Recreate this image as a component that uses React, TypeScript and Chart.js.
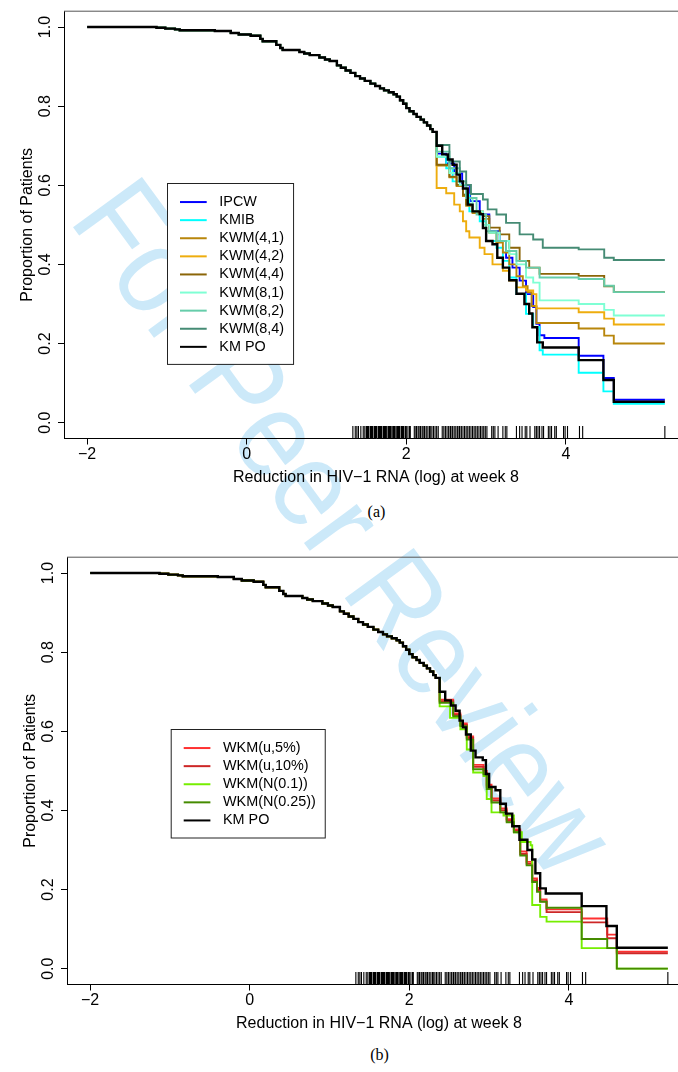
import React, { useEffect, useRef } from 'react';
import { Chart, registerables } from 'chart.js';

Chart.register(...registerables);

const SANS = "'Liberation Sans', Arial, Helvetica, sans-serif";
const SERIF = "'Liberation Serif', 'Times New Roman', serif";

// ---------- axes ----------
const xTickValues = [-2, 0, 2, 4];
const yTickValues = [0, 0.2, 0.4, 0.6, 0.8, 1.0];
const xTitle = 'Reduction in HIV\u22121 RNA (log) at week 8';
const yTitle = 'Proportion of Patients';
const panelLabels = ['(a)', '(b)'];
const watermarkText = 'For Peer Review';

// ---------- shared early part of every curve ----------
const baseX = [-2, -1.13, -1.02, -0.9, -0.84, -0.4, -0.2, -0.1, 0.05, 0.17, 0.2, 0.37, 0.42, 0.45, 0.66, 0.72, 0.79, 0.91, 0.98, 1.04, 1.13, 1.18, 1.24, 1.3, 1.36, 1.42, 1.48, 1.55, 1.61, 1.67, 1.72, 1.78, 1.84, 1.88, 1.92, 1.96, 2.0, 2.04, 2.09, 2.13, 2.18, 2.22, 2.26, 2.3, 2.33];
const baseY = [1.0, 0.998, 0.996, 0.994, 0.992, 0.99, 0.985, 0.981, 0.978, 0.97, 0.964, 0.955, 0.947, 0.942, 0.937, 0.933, 0.929, 0.923, 0.918, 0.914, 0.903, 0.897, 0.89, 0.884, 0.876, 0.87, 0.864, 0.857, 0.851, 0.845, 0.84, 0.835, 0.83, 0.824, 0.815, 0.806, 0.795, 0.787, 0.78, 0.773, 0.766, 0.759, 0.751, 0.742, 0.735];

// ---------- tails (panel a) ----------
const kmpoX = [2.38, 2.45, 2.52, 2.58, 2.63, 2.67, 2.71, 2.77, 2.83, 2.92, 2.96, 3.0, 3.08, 3.14, 3.21, 3.29, 3.38, 3.48, 3.54, 3.58, 3.64, 3.71, 4.16, 4.47, 4.6, 5.24];
const kmpoY = [0.70, 0.678, 0.665, 0.652, 0.627, 0.61, 0.592, 0.551, 0.534, 0.527, 0.492, 0.459, 0.451, 0.417, 0.392, 0.36, 0.326, 0.30, 0.276, 0.241, 0.203, 0.19, 0.158, 0.108, 0.053, 0.053];

const ipcwX = [2.38, 2.5, 2.6, 2.7, 2.8, 2.92, 3.04, 3.17, 3.25, 3.33, 3.42, 3.5, 3.59, 3.63, 3.67, 3.73, 4.16, 4.47, 4.6, 5.24];
const ipcwY = [0.68, 0.655, 0.63, 0.60, 0.56, 0.526, 0.484, 0.459, 0.417, 0.392, 0.359, 0.325, 0.292, 0.25, 0.221, 0.214, 0.169, 0.113, 0.058, 0.058];

const kmibX = [2.38, 2.5, 2.58, 2.71, 2.79, 2.92, 3.0, 3.13, 3.21, 3.29, 3.38, 3.5, 3.59, 3.67, 3.71, 4.16, 4.47, 4.6, 5.24];
const kmibY = [0.672, 0.643, 0.61, 0.576, 0.534, 0.509, 0.459, 0.442, 0.409, 0.367, 0.325, 0.275, 0.242, 0.183, 0.172, 0.126, 0.079, 0.048, 0.048];

const kwm41X = [2.38, 2.54, 2.63, 2.71, 2.75, 2.83, 2.96, 3.04, 3.13, 3.21, 3.29, 3.38, 3.46, 3.52, 3.57, 3.63, 4.16, 4.48, 4.6, 5.24];
const kwm41Y = [0.65, 0.62, 0.598, 0.573, 0.548, 0.53, 0.515, 0.48, 0.455, 0.43, 0.40, 0.37, 0.345, 0.33, 0.295, 0.252, 0.238, 0.22, 0.20, 0.20];

const kwm42X = [2.38, 2.5, 2.6, 2.67, 2.71, 2.75, 2.79, 2.92, 2.98, 3.08, 3.21, 3.29, 3.38, 3.5, 3.59, 3.63, 4.16, 4.48, 4.6, 5.24];
const kwm42Y = [0.593, 0.58, 0.551, 0.534, 0.509, 0.484, 0.468, 0.442, 0.426, 0.40, 0.384, 0.359, 0.342, 0.334, 0.325, 0.289, 0.279, 0.263, 0.248, 0.248];

const kwm44X = [2.38, 2.54, 2.63, 2.71, 2.75, 2.83, 2.96, 3.04, 3.17, 3.29, 3.42, 3.54, 3.67, 4.16, 4.48, 4.6, 5.24];
const kwm44Y = [0.652, 0.622, 0.601, 0.576, 0.551, 0.534, 0.522, 0.493, 0.476, 0.442, 0.409, 0.392, 0.376, 0.371, 0.345, 0.33, 0.33];

const kwm81X = [2.38, 2.54, 2.67, 2.75, 2.83, 2.96, 3.04, 3.17, 3.29, 3.38, 3.5, 3.59, 3.67, 4.16, 4.48, 4.6, 5.24];
const kwm81Y = [0.672, 0.631, 0.601, 0.568, 0.534, 0.50, 0.48, 0.459, 0.426, 0.40, 0.367, 0.354, 0.309, 0.30, 0.285, 0.271, 0.271];

const kwm82X = [2.38, 2.54, 2.67, 2.75, 2.88, 3.0, 3.13, 3.25, 3.38, 3.5, 3.67, 4.16, 4.48, 4.6, 5.24];
const kwm82Y = [0.685, 0.643, 0.61, 0.568, 0.526, 0.484, 0.459, 0.434, 0.409, 0.392, 0.367, 0.363, 0.346, 0.33, 0.33];

const kwm84X = [2.38, 2.54, 2.67, 2.75, 2.81, 2.96, 3.02, 3.13, 3.25, 3.42, 3.59, 3.71, 4.16, 4.48, 4.6, 5.24];
const kwm84Y = [0.702, 0.66, 0.635, 0.601, 0.578, 0.564, 0.539, 0.526, 0.505, 0.476, 0.463, 0.442, 0.438, 0.417, 0.411, 0.411];

// ---------- tails (panel b) ----------
const wkmU5X = [2.38, 2.55, 2.64, 2.72, 2.80, 2.93, 2.97, 3.03, 3.14, 3.22, 3.31, 3.39, 3.47, 3.54, 3.6, 3.64, 3.72, 4.16, 4.48, 4.6, 5.24];
const wkmU5Y = [0.68, 0.645, 0.62, 0.587, 0.515, 0.5, 0.465, 0.43, 0.405, 0.378, 0.352, 0.296, 0.27, 0.228, 0.204, 0.175, 0.15, 0.127, 0.086, 0.043, 0.043];

const wkmU10X = [2.38, 2.55, 2.64, 2.72, 2.80, 2.93, 2.97, 3.03, 3.14, 3.22, 3.31, 3.39, 3.47, 3.54, 3.6, 3.64, 3.72, 4.16, 4.48, 4.6, 5.24];
const wkmU10Y = [0.676, 0.641, 0.616, 0.583, 0.51, 0.495, 0.46, 0.425, 0.40, 0.374, 0.348, 0.29, 0.265, 0.223, 0.199, 0.17, 0.143, 0.117, 0.077, 0.039, 0.039];

const wkmN10X = [2.38, 2.51, 2.64, 2.72, 2.80, 2.93, 2.97, 3.03, 3.18, 3.31, 3.41, 3.52, 3.54, 3.64, 3.72, 4.16, 4.6, 5.24];
const wkmN10Y = [0.663, 0.634, 0.605, 0.554, 0.496, 0.487, 0.429, 0.395, 0.387, 0.345, 0.32, 0.312, 0.161, 0.131, 0.119, 0.052, 0.0, 0.0];

const wkmN25X = [2.38, 2.55, 2.64, 2.72, 2.80, 2.93, 2.97, 3.03, 3.14, 3.22, 3.31, 3.39, 3.47, 3.54, 3.6, 3.64, 3.72, 4.16, 4.48, 4.6, 5.24];
const wkmN25Y = [0.672, 0.638, 0.613, 0.579, 0.504, 0.491, 0.454, 0.42, 0.395, 0.37, 0.345, 0.286, 0.261, 0.219, 0.194, 0.169, 0.154, 0.075, 0.052, 0.0, 0.0];

// ---------- rug (observed values) ----------
const rugValues = [1.33, 1.36, 1.38, 1.40, 1.43, 1.46, 1.48, 1.50, 1.51, 1.52, 1.53, 1.55, 1.56, 1.57, 1.58, 1.60, 1.61, 1.62, 1.63, 1.65, 1.66, 1.67, 1.68, 1.69, 1.71, 1.72, 1.73, 1.74, 1.75, 1.77, 1.78, 1.79, 1.80, 1.81, 1.83, 1.84, 1.85, 1.86, 1.88, 1.89, 1.90, 1.91, 1.92, 1.94, 1.95, 1.96, 1.97, 1.99, 2.00, 2.02, 2.04, 2.05, 2.10, 2.12, 2.13, 2.15, 2.17, 2.18, 2.20, 2.22, 2.23, 2.25, 2.27, 2.29, 2.30, 2.32, 2.34, 2.36, 2.38, 2.40, 2.45, 2.47, 2.49, 2.51, 2.53, 2.55, 2.56, 2.58, 2.60, 2.62, 2.64, 2.66, 2.67, 2.69, 2.71, 2.73, 2.75, 2.77, 2.79, 2.81, 2.83, 2.85, 2.87, 2.89, 2.91, 2.93, 2.95, 2.97, 2.99, 3.01, 3.07, 3.09, 3.11, 3.15, 3.21, 3.24, 3.26, 3.38, 3.42, 3.45, 3.49, 3.51, 3.55, 3.61, 3.63, 3.65, 3.67, 3.70, 3.72, 3.78, 3.80, 3.82, 3.86, 3.88, 3.97, 3.99, 4.02, 4.17, 4.21, 5.24];

// ---------- series definitions ----------
const seriesA = [
  { label: 'IPCW', color: '#0000FF', tx: ipcwX, ty: ipcwY },
  { label: 'KMIB', color: '#00FFFF', tx: kmibX, ty: kmibY },
  { label: 'KWM(4,1)', color: '#B8860B', tx: kwm41X, ty: kwm41Y },
  { label: 'KWM(4,2)', color: '#EEAD0E', tx: kwm42X, ty: kwm42Y },
  { label: 'KWM(4,4)', color: '#8B6508', tx: kwm44X, ty: kwm44Y },
  { label: 'KWM(8,1)', color: '#7FFFD4', tx: kwm81X, ty: kwm81Y },
  { label: 'KWM(8,2)', color: '#66CDAA', tx: kwm82X, ty: kwm82Y },
  { label: 'KWM(8,4)', color: '#458B74', tx: kwm84X, ty: kwm84Y },
  { label: 'KM PO', color: '#000000', tx: kmpoX, ty: kmpoY },
];
const seriesB = [
  { label: 'WKM(u,5%)', color: '#FF3030', tx: wkmU5X, ty: wkmU5Y },
  { label: 'WKM(u,10%)', color: '#CD2626', tx: wkmU10X, ty: wkmU10Y },
  { label: 'WKM(N(0.1))', color: '#76EE00', tx: wkmN10X, ty: wkmN10Y },
  { label: 'WKM(N(0.25))', color: '#458B00', tx: wkmN25X, ty: wkmN25Y },
  { label: 'KM PO', color: '#000000', tx: kmpoX, ty: kmpoY },
];

// ---------- plugins ----------
const boxPlugin = {
  id: 'rbox',
  afterDraw(chart: any) {
    const { ctx, chartArea: a } = chart;
    ctx.save();
    ctx.strokeStyle = '#555';
    ctx.lineWidth = 1;
    ctx.beginPath();
    ctx.moveTo(a.left, a.top);
    ctx.lineTo(a.right, a.top);
    ctx.lineTo(a.right, a.bottom);
    ctx.stroke();
    ctx.restore();
  },
};

const rugPlugin = {
  id: 'rug',
  afterDatasetsDraw(chart: any, _args: any, opts: any) {
    const { ctx, chartArea: a } = chart;
    const xs = chart.scales.x;
    ctx.save();
    ctx.strokeStyle = '#000';
    ctx.lineWidth = 1.1;
    ctx.beginPath();
    (opts.values || []).forEach((v: number) => {
      const px = xs.getPixelForValue(v);
      ctx.moveTo(px, a.bottom);
      ctx.lineTo(px, a.bottom - opts.size);
    });
    ctx.stroke();
    ctx.restore();
  },
};

const legendPlugin = {
  id: 'boxLegend',
  afterDraw(chart: any, _args: any, o: any) {
    const { ctx } = chart;
    const ds = chart.data.datasets;
    ctx.save();
    ctx.font = `${o.fontSize}px ${SANS}`;
    const maxW = Math.max(...ds.map((d: any) => ctx.measureText(d.label).width));
    const w = o.textDx + maxW + o.padRight;
    const h = o.padTop + ds.length * o.rowH + o.padBottom;
    ctx.fillStyle = '#ffffff';
    ctx.fillRect(o.left, o.top, w, h);
    ctx.strokeStyle = '#222';
    ctx.lineWidth = 1;
    ctx.strokeRect(o.left + 0.5, o.top + 0.5, w, h);
    ds.forEach((d: any, i: number) => {
      const cy = o.top + o.padTop + (i + 0.5) * o.rowH;
      ctx.strokeStyle = d.borderColor;
      ctx.lineWidth = o.lineWidth;
      ctx.beginPath();
      ctx.moveTo(o.left + o.lineDx0, cy);
      ctx.lineTo(o.left + o.lineDx1, cy);
      ctx.stroke();
      ctx.fillStyle = '#000';
      ctx.textBaseline = 'middle';
      ctx.textAlign = 'left';
      ctx.fillText(d.label, o.left + o.textDx, cy);
    });
    ctx.restore();
  },
};

function makeConfig(series: any[], legendPos: { left: number; top: number }) {
  const datasets = series.map((s, i) => {
    const xs = baseX.concat(s.tx);
    const ys = baseY.concat(s.ty);
    return {
      label: s.label,
      data: xs.map((x, j) => ({ x, y: ys[j] })),
      borderColor: s.color,
      backgroundColor: s.color,
      borderWidth: s.color === '#000000' ? 2.4 : 1.9,
      pointRadius: 0,
      stepped: 'before',
      fill: false,
      tension: 0,
      order: -i,
    };
  });
  const tickFont = { family: SANS, size: 16 };
  return {
    type: 'line',
    data: { datasets },
    options: {
      responsive: false,
      animation: false,
      events: [],
      layout: { padding: { left: 0, top: 8.5, right: 12, bottom: 0 } },
      scales: {
        x: {
          type: 'linear',
          min: -2.29,
          max: 5.53,
          afterBuildTicks: (s: any) => {
            s.ticks = xTickValues.map((v) => ({ value: v }));
          },
          afterFit: (s: any) => {
            s.height = 61.5;
          },
          ticks: {
            autoSkip: false,
            maxRotation: 0,
            padding: 0.5,
            color: '#000',
            font: tickFont,
            callback: (v: any) => (Number(v) < 0 ? '\u2212' + Math.abs(Number(v)) : String(v)),
          },
          grid: { display: true, drawOnChartArea: false, drawTicks: true, tickLength: 6, tickColor: '#000', tickWidth: 1 },
          border: { display: true, color: '#000', width: 1 },
          title: { display: true, text: xTitle, color: '#000', font: tickFont, padding: { top: 0, bottom: 12.4 } },
        },
        y: {
          type: 'linear',
          min: -0.04,
          max: 1.04,
          afterBuildTicks: (s: any) => {
            s.ticks = yTickValues.map((v) => ({ value: v }));
          },
          afterFit: (s: any) => {
            s.width = 64;
          },
          ticks: {
            autoSkip: false,
            minRotation: 90,
            maxRotation: 90,
            crossAlign: 'center',
            padding: 1.6,
            color: '#000',
            font: tickFont,
            callback: (v: any) => Number(v).toFixed(1),
          },
          grid: { display: true, drawOnChartArea: false, drawTicks: true, tickLength: 6, tickColor: '#000', tickWidth: 1 },
          border: { display: true, color: '#000', width: 1 },
          title: { display: true, text: yTitle, color: '#000', font: tickFont, padding: { top: 17.5, bottom: 0 } },
        },
      },
      plugins: {
        legend: { display: false },
        tooltip: { enabled: false },
        rug: { values: rugValues, size: 12.5 },
        boxLegend: {
          left: legendPos.left,
          top: legendPos.top,
          fontSize: 14.4,
          rowH: 18.1,
          padTop: 10,
          padBottom: 8,
          padRight: 9,
          lineDx0: 13,
          lineDx1: 39.7,
          textDx: 52.3,
          lineWidth: 2,
        },
      },
    },
    plugins: [boxPlugin, rugPlugin, legendPlugin],
  };
}

function Panel(props: { series: any[]; left: number; top: number; legend: { left: number; top: number } }) {
  const ref = useRef<HTMLCanvasElement | null>(null);
  useEffect(() => {
    if (!ref.current) return;
    const chart = new Chart(ref.current, makeConfig(props.series, props.legend) as any);
    return () => chart.destroy();
  }, []);
  return (
    <canvas
      ref={ref}
      width={700}
      height={500}
      style={{ position: 'absolute', left: props.left, top: props.top, width: 700, height: 500, zIndex: 1, display: 'block' }}
    />
  );
}

export default function App() {
  return (
    <div style={{ position: 'absolute', left: 0, top: 0, width: 678, height: 1072, overflow: 'hidden', background: '#fff' }}>
      <svg width={678} height={1072} style={{ position: 'absolute', left: 0, top: 0, zIndex: 0 }}>
        <text
          x={0}
          y={0}
          transform="translate(67.8 219.9) rotate(53.8) scale(0.89 1)"
          fontFamily={SANS}
          fontSize={124}
          fill="#cce9f9"
        >
          {watermarkText}
        </text>
        <text x={376.5} y={516.5} textAnchor="middle" fontFamily={SERIF} fontSize={16} fill="#000">
          {panelLabels[0]}
        </text>
        <text x={379.5} y={1059.5} textAnchor="middle" fontFamily={SERIF} fontSize={16} fill="#000">
          {panelLabels[1]}
        </text>
      </svg>
      <Panel series={seriesA} left={0} top={0} legend={{ left: 167, top: 183 }} />
      <Panel series={seriesB} left={3} top={546} legend={{ left: 167.7, top: 183 }} />
    </div>
  );
}
